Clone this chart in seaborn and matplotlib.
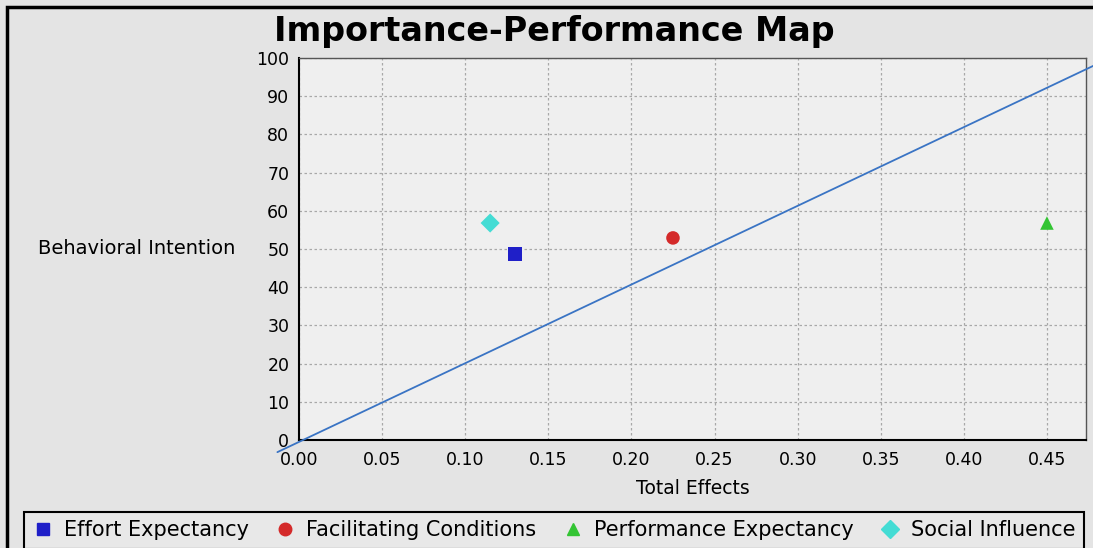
import matplotlib
matplotlib.use("Agg")
import matplotlib.pyplot as plt
import seaborn as sns
import pandas as pd
import numpy as np
from matplotlib.patches import Rectangle
from matplotlib.lines import Line2D

constructs = ["Effort Expectancy", "Facilitating Conditions", "Performance Expectancy", "Social Influence"]
total_effects = [0.130, 0.225, 0.450, 0.115]
performance = [48.7, 52.9, 56.8, 56.8]
colors = ["#1f1fc8", "#d42a2a", "#33c433", "#44dcd4"]
markers = ["s", "o", "^", "D"]
x_ticks = [0.00, 0.05, 0.10, 0.15, 0.20, 0.25, 0.30, 0.35, 0.40, 0.45]
y_ticks = [0, 10, 20, 30, 40, 50, 60, 70, 80, 90, 100]
line_slope = 206.0
line_intercept = -0.5

df = pd.DataFrame({"Construct": constructs, "Total Effects": total_effects,
                   "Performance": performance})

sns.set_style("white")
plt.rcParams['font.family'] = ['DejaVu Sans']
plt.rcParams['text.color'] = 'black'
plt.rcParams['axes.labelcolor'] = 'black'
plt.rcParams['xtick.color'] = 'black'
plt.rcParams['ytick.color'] = 'black'

fig = plt.figure(figsize=(10.93, 5.48), dpi=100)
fig.patch.set_facecolor("#e4e4e4")
ax = fig.add_axes([299/1093, 1-440/548, (1086-299)/1093, (440-58)/548])
ax.set_facecolor("#efefef")

ax.set_xlim(0, 0.4735)
ax.set_ylim(0, 100)
ax.set_xticks(x_ticks)
ax.set_xticklabels([f"{v:.2f}" for v in x_ticks])
ax.set_yticks(y_ticks)
ax.grid(True, color="#a8a8a8", linestyle=(0, (2, 2)), linewidth=0.9)
ax.set_axisbelow(True)

# diagonal line (drawn past the axes like the original)
lx = np.array([-0.013, 0.478])
ax.plot(lx, line_slope * lx + line_intercept, color="#3a74c4", linewidth=1.3,
        clip_on=False, zorder=3)

sns.scatterplot(data=df, x="Total Effects", y="Performance", hue="Construct",
                style="Construct", palette=dict(zip(constructs, colors)),
                markers=dict(zip(constructs, markers)), s=95, edgecolor="none",
                ax=ax, zorder=4, legend=False)

for sp in ["left", "bottom"]:
    ax.spines[sp].set_color("black")
    ax.spines[sp].set_linewidth(1.5)
for sp in ["top", "right"]:
    ax.spines[sp].set_color("#555555")
    ax.spines[sp].set_linewidth(1.0)

ax.tick_params(axis="both", direction="out", length=5, width=1.2, color="black",
               labelsize=12.5, pad=2)
ax.tick_params(axis="x", pad=3)
ax.set_xlabel("Total Effects", fontsize=13.5, labelpad=7)
ax.set_ylabel("")
fig.text(137/1093, 1-249/548, "Behavioral Intention", fontsize=14,
         ha="center", va="center")
fig.text(554/1093, 1-31/548, "Importance-Performance Map", fontsize=24,
         fontweight="bold", ha="center", va="center")

handles = [Line2D([], [], linestyle="none", marker=m, color=c, markersize=9)
           for m, c in zip(markers, colors)]
leg = fig.legend(handles, constructs, loc="upper center", ncol=4,
                 bbox_to_anchor=(554/1093, 1-512/548),
                 fontsize=15, frameon=True, fancybox=False,
                 edgecolor="black", facecolor="#e8e8e8", framealpha=1,
                 handletextpad=0.5, borderaxespad=0, handlelength=1.0,
                 columnspacing=1.25, borderpad=0.4)
leg.get_frame().set_linewidth(1.5)

fig.patches.append(Rectangle((7/1093, -0.05), 1.2, 1.05-7/548, transform=fig.transFigure,
                             fill=False, edgecolor="black", linewidth=2.5))

fig.savefig("out.png", dpi=100, facecolor=fig.get_facecolor())
